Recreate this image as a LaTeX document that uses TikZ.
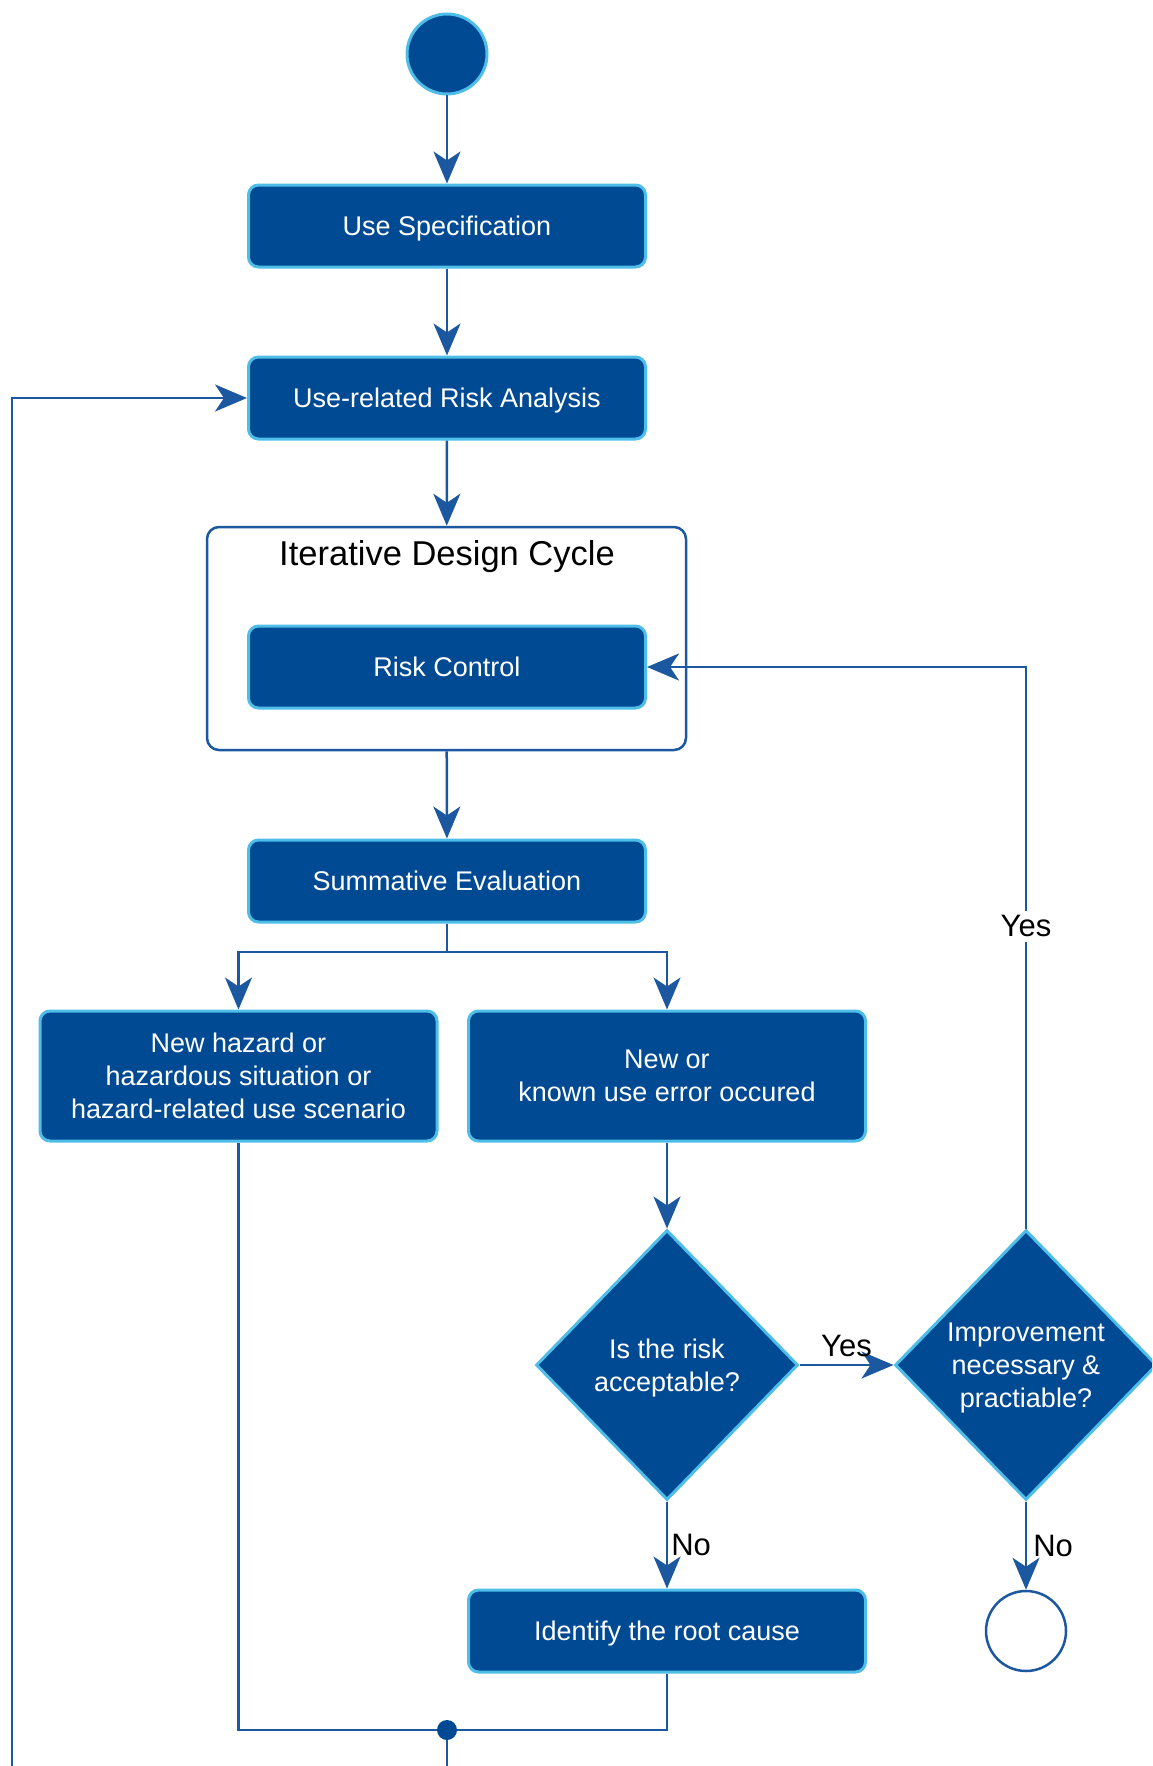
\documentclass[tikz,border=0pt]{standalone}
\usepackage{fontspec}
\setmainfont{Liberation Sans}
\usetikzlibrary{arrows.meta,shapes.geometric}
\definecolor{actfill}{RGB}{0,74,148}
\definecolor{actedge}{RGB}{78,190,232}
\definecolor{flow}{RGB}{28,88,160}

\begin{document}
\begin{tikzpicture}[x=1pt,y=-1pt,
  activity/.style={rectangle, rounded corners=10pt, fill=actfill, draw=actedge,
    line width=3pt, text=white, align=center, minimum width=397pt,
    minimum height=82pt, inner sep=0pt, text depth=0pt,
    font=\fontsize{27}{33}\selectfont},
  decision/.style={diamond, aspect=0.97, fill=actfill, draw=actedge,
    line width=3pt, text=white, align=center, minimum width=262pt,
    minimum height=270pt, inner sep=0pt, text depth=0pt,
    font=\fontsize{27}{33}\selectfont},
  flowline/.style={draw=flow, line width=2.5pt},
  arrow/.style={flowline, -{Stealth[length=32pt,width=27pt,inset=9pt]}},
  guard/.style={text=black, font=\fontsize{31}{35}\selectfont, inner sep=2pt},
]
\clip (0,0) rectangle (1152,1766);

% initial node and main chain
\node[circle, fill=actfill, draw=actedge, line width=3pt, minimum size=80pt, inner sep=0pt] (start) at (447,54) {};
\node[activity] (spec) at (447,226) {Use Specification};
\node[activity] (analysis) at (447,398) {Use-related Risk Analysis};

% iterative design cycle container
\node[draw=flow, line width=2.5pt, rounded corners=12pt, minimum width=479pt, minimum height=223pt, inner sep=0pt] (cycle) at (446.5,638.5) {};
\node[guard, font=\fontsize{34.5}{38}\selectfont] (cycletitle) at (447,557) {Iterative Design Cycle};
\node[activity] (control) at (447,667) {Risk Control};

\node[activity] (summative) at (447,881) {Summative Evaluation};
\node[activity, minimum height=130pt] (hazard) at (238.5,1076) {New hazard or\\hazardous situation or\\hazard-related use scenario};
\node[activity, minimum height=130pt] (useerror) at (667,1076) {New or\\known use error occured};

% decisions
\node[decision] (acceptable) at (667,1365) {Is the risk\\acceptable?};
\node[decision] (improve) at (1026,1365) {Improvement\\necessary \&\\practiable?};

\node[activity] (rootcause) at (667,1631) {Identify the root cause};
\node[circle, draw=flow, line width=2.5pt, fill=white, minimum size=80pt, inner sep=0pt] (final) at (1026,1631) {};
\node[circle, fill=actfill, minimum size=20pt, inner sep=0pt] (merge) at (447,1730) {};

\coordinate (split) at (447,952);
\coordinate (yescorner) at (1026,667);
\coordinate (loopbottom) at (447,1800);
\coordinate (loopleft) at (12,1800);

% connectors
\draw[arrow] (start) -- (spec);
\draw[arrow] (spec) -- (analysis);
\draw[arrow] (analysis) -- (cycle);
\draw[arrow] (cycle) -- (summative);
\draw[flowline] (summative) -- (split);
\draw[arrow] (split) -| (hazard);
\draw[arrow] (split) -| (useerror);
\draw[arrow] (useerror) -- (acceptable);
\draw[arrow] (acceptable) -- node[guard, midway, yshift=19pt] {Yes} (improve);
\draw[arrow] (acceptable) -- node[guard, midway, anchor=west, xshift=1pt] {No} (rootcause);
\draw[arrow] (improve) -- node[guard, midway, anchor=west, xshift=4pt] {No} (final);
\draw[arrow] (improve) -- node[guard, pos=0.538, fill=white, inner sep=5pt] {Yes} (yescorner) -- (control);

% merge and loop back to the risk analysis
\draw[flowline] (hazard) |- (merge);
\draw[flowline] (rootcause) |- (merge);
\draw[arrow] (merge) -- (loopbottom) -- (loopleft) |- (analysis);
\end{tikzpicture}
\end{document}
